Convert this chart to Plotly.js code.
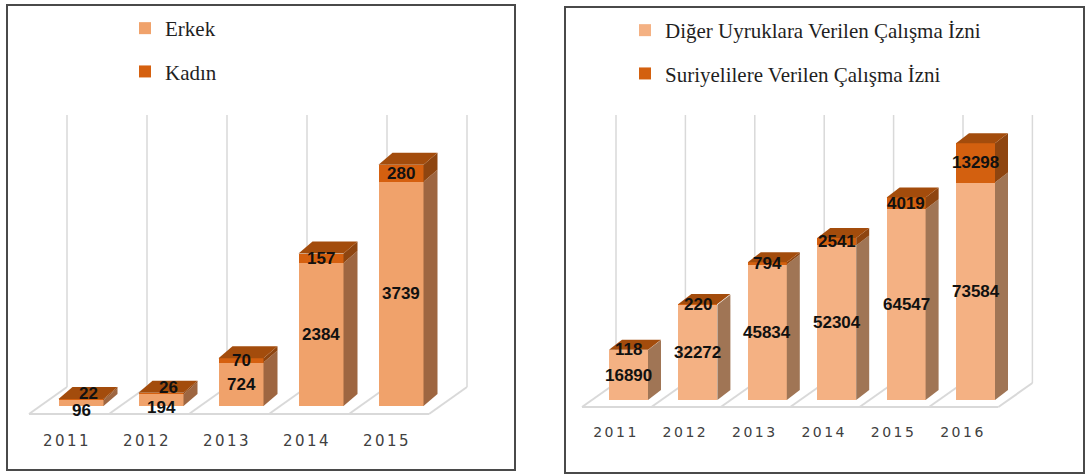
<!DOCTYPE html>
<html><head><meta charset="utf-8">
<script src="https://cdn.plot.ly/plotly-3.0.1.min.js"></script>
<style>
html,body{margin:0;padding:0;background:#fff;width:1091px;height:475px;overflow:hidden;}
.panel{position:absolute;border:2px solid #4a4a4a;box-sizing:border-box;background:#fff;overflow:hidden;}
.panel .plot{position:absolute;left:0;top:-40px;}
#left{left:6px;top:4px;width:510px;height:467px;}
#right{left:564px;top:6px;width:521px;height:468px;}
.xtick text{letter-spacing:2.5px;}
.legendpoints path{stroke-width:3px !important;}
</style></head><body>
<div id="left" class="panel"><div id="leftPlot" class="plot"></div></div>
<div id="right" class="panel"><div id="rightPlot" class="plot"></div></div>
<script>
// ---- data ----
const leftYears = ['2011','2012','2013','2014','2015'];
const erkek = [96, 194, 724, 2384, 3739];
const kadin = [22, 26, 70, 157, 280];

const rightYears = ['2011','2012','2013','2014','2015','2016'];
const diger = [16890, 32272, 45834, 52304, 64547, 73584];
const suriye = [118, 220, 794, 2541, 4019, 13298];

// ---- style / geometry (page pixels) ----
const LIFT = 40; // plot div is lifted by this many px inside its panel
const leftGeo = {
  el:'leftPlot', innerX:8, innerY:6 - LIFT, innerW:506, innerH:463 + LIFT,
  plotL:20, plotR:482, plotT:108, plotB:420,
  center0:81, step:80, barW:45, base:406, ppu:0.06,
  sideDx:14, sideDy:12, gridOff:14, gridTop:115,
  floorY:414, floorDx:38, floorDy:27,
  tickSize:15, legendX:125, legendY:8, smallFix:true
};
const rightGeo = {
  el:'rightPlot', innerX:566, innerY:8 - LIFT, innerW:517, innerH:464 + LIFT,
  plotL:572, plotR:1045, plotT:108, plotB:412,
  center0:628.5, step:69.4, barW:39, base:400, ppu:0.002955,
  sideDx:13, sideDy:10, gridOff:12.5, gridTop:115,
  floorY:407, floorDx:34, floorDy:24,
  tickSize:14, legendX:625, legendY:10, smallFix:false
};
const colors = {
  left:  {b:'#F0A26B', bSide:'#9E6641', t:'#D5600F', tSide:'#8E4510', tTop:'#A34C0C'},
  right: {b:'#F4B183', bSide:'#A07555', t:'#D3600F', tSide:'#8E4510', tTop:'#A34C0C'}
};

function draw(g, years, bottom, top, nameB, nameT, col) {
  const n = years.length;
  const idx = years.map((_, i) => i);
  const w = g.barW / g.step;
  const dx = g.sideDx / g.step;
  const dy = g.sideDy / g.ppu;
  const gridX = k => k - g.gridOff / g.step;
  const fdx = g.floorDx / g.step;
  const floorFront = -(g.floorY - g.base) / g.ppu;
  const floorBack = floorFront + g.floorDy / g.ppu;
  const gridTopY = (g.base - g.gridTop) / g.ppu;

  const traces = [
    {type:'bar', x:idx, y:bottom, width:w, name:nameB, legendgroup:'a',
     marker:{color:col.b, line:{color:col.b, width:0}}, hoverinfo:'y'},
    {type:'bar', x:idx, y:top, width:w, name:nameT, legendgroup:'b',
     marker:{color:col.t, line:{color:col.t, width:0}}, hoverinfo:'y'}
  ];
  function poly(xs, ys, c) {
    traces.push({type:'scatter', mode:'lines', x:xs, y:ys, fill:'toself',
      fillcolor:c, line:{width:0, color:c}, showlegend:false, hoverinfo:'skip'});
  }
  const ann = [];
  idx.forEach(i => {
    const b = bottom[i], t = top[i], T = b + t;
    const xl = i - w/2, xr = i + w/2;
    poly([xr, xr+dx, xr+dx, xr, xr], [0, dy, b+dy, b, 0], col.bSide);
    poly([xr, xr+dx, xr+dx, xr, xr], [b, b+dy, T+dy, T, b], col.tSide);
    poly([xl, xl+dx, xr+dx, xr, xl], [T, T+dy, T+dy, T, T], col.tTop);
    const small = g.smallFix && b * g.ppu < 15;
    const f = {family:'Liberation Sans, Arial, sans-serif', size:17, color:'#111', weight:'bold'};
    ann.push({x:i, y:b/2, yshift: small ? -7 : 0, text:String(b),
      showarrow:false, font:f, xref:'x', yref:'y'});
    ann.push({x:i, y: small ? T : b + t/2, yshift: small ? 5 : 0, xshift: small ? 7 : 0,
      text:String(t), showarrow:false, font:f, xref:'x', yref:'y'});
  });

  const shapes = [];
  const lc = '#d9d9d9';
  shapes.push({type:'line', layer:'below', xref:'x', yref:'y',
    x0:gridX(0)-fdx, x1:gridX(n)-fdx, y0:floorFront, y1:floorFront, line:{color:lc, width:2}});
  for (let k = 0; k <= n; k++) {
    shapes.push({type:'line', layer:'below', xref:'x', yref:'y',
      x0:gridX(k)-fdx, x1:gridX(k), y0:floorFront, y1:floorBack, line:{color:lc, width:2}});
    shapes.push({type:'line', layer:'below', xref:'x', yref:'y',
      x0:gridX(k), x1:gridX(k), y0:floorBack, y1:gridTopY, line:{color:lc, width:1.5}});
  }

  const pw = g.plotR - g.plotL, ph = g.plotB - g.plotT;
  const layout = {
    width:g.innerW, height:g.innerH,
    margin:{l:g.plotL-g.innerX, r:g.innerW-(g.plotR-g.innerX), t:g.plotT-g.innerY, b:g.innerH-(g.plotB-g.innerY), pad:0},
    barmode:'stack', bargap:0,
    paper_bgcolor:'rgba(0,0,0,0)', plot_bgcolor:'rgba(0,0,0,0)',
    showlegend:true,
    legend:{xref:'paper', yref:'paper', x:(g.legendX-g.plotL)/pw, xanchor:'left',
      y:1+(g.plotT-g.legendY)/ph, yanchor:'top', traceorder:'grouped', tracegroupgap:13,
      font:{family:'Liberation Serif, Times New Roman, serif', size:21, color:'#1f1f1f'},
      bgcolor:'rgba(0,0,0,0)'},
    xaxis:{type:'linear', range:[(g.plotL-g.center0)/g.step, (g.plotR-g.center0)/g.step],
      tickmode:'array', tickvals:idx.map(gridX), ticktext:years, ticks:'', showgrid:false,
      zeroline:false, showline:false, ticklabelstandoff:10, fixedrange:true, automargin:false,
      tickfont:{family:'DejaVu Sans, sans-serif', size:g.tickSize, color:'#404040'}},
    yaxis:{range:[-(g.plotB-g.base)/g.ppu, (g.base-g.plotT)/g.ppu], showgrid:false, zeroline:false,
      showticklabels:false, showline:false, ticks:'', fixedrange:true, automargin:false},
    shapes:shapes, annotations:ann
  };
  Plotly.newPlot(g.el, traces, layout, {displayModeBar:false, staticPlot:true});
}

draw(leftGeo, leftYears, erkek, kadin, 'Erkek', 'Kadın', colors.left);
draw(rightGeo, rightYears, diger, suriye,
  'Diğer Uyruklara Verilen Çalışma İzni', 'Suriyelilere Verilen Çalışma İzni', colors.right);
</script>
</body></html>
